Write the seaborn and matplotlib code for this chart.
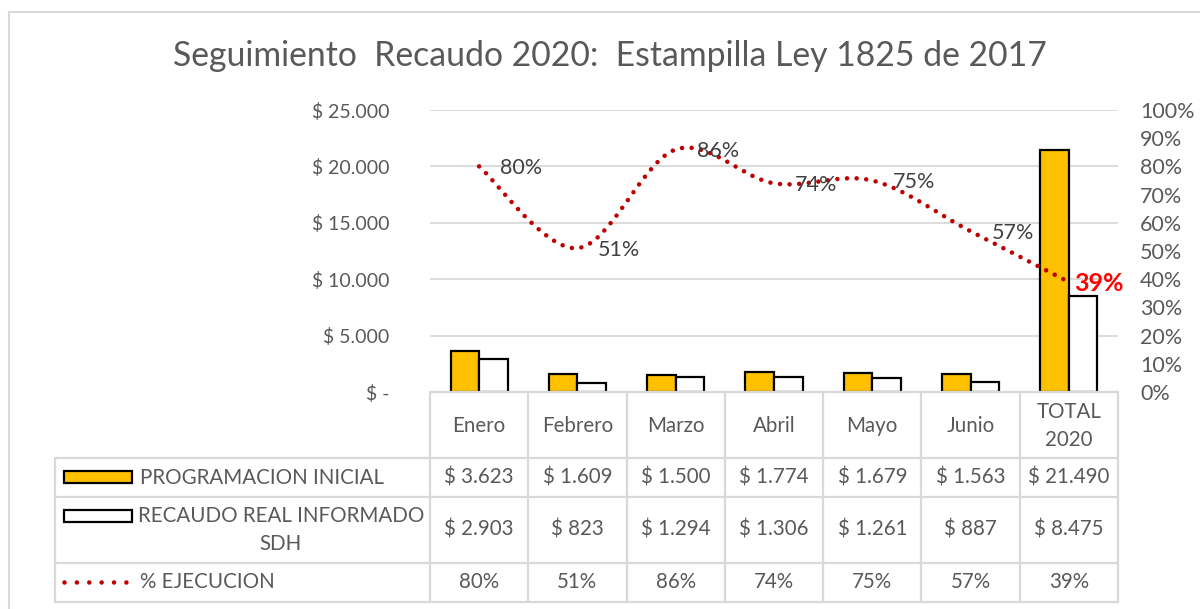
import numpy as np
import pandas as pd
import seaborn as sns
import matplotlib
matplotlib.use("Agg")
import matplotlib.pyplot as plt
from matplotlib.patches import Rectangle
from matplotlib.lines import Line2D
from matplotlib.transforms import blended_transform_factory

# ---------------- data ----------------
meses = ["Enero", "Febrero", "Marzo", "Abril", "Mayo", "Junio", "TOTAL\n2020"]
programacion = [3623, 1609, 1500, 1774, 1679, 1563, 21490]
recaudo = [2903, 823, 1294, 1306, 1261, 887, 8475]
ejecucion = [0.80, 0.51, 0.86, 0.74, 0.75, 0.57, 0.39]
serie_prog = "PROGRAMACION INICIAL"
serie_real = "RECAUDO REAL INFORMADO\nSDH"
serie_pct = "% EJECUCION"
titulo = "Seguimiento  Recaudo 2020:  Estampilla Ley 1825 de 2017"
y_ticks = [0, 5000, 10000, 15000, 20000, 25000]
pct_ticks = [i / 10 for i in range(11)]

# ---------------- style ----------------
sns.set_theme(style="white")
plt.rcParams["font.family"] = ["Lato", "DejaVu Sans"]
GREY = "#595959"
GRID = "#D9D9D9"
YELLOW = "#FFC000"
RED = "#C00000"
TICK_FS = 15.5
LTICK_FS = 14
TAB_FS = 14.8

W, H = 1200, 609
fig = plt.figure(figsize=(W / 100, H / 100), dpi=100)


def fx(x):
    return x / W


def fy(y):
    return 1 - y / H


def money(v):
    if v == 0:
        return "$ -"
    return "$ " + f"{v:,.0f}".replace(",", ".")


# plot area
L, R, T, B = 430, 1118, 110, 392
ax = fig.add_axes([fx(L), fy(B), fx(R) - fx(L), fy(T) - fy(B)])

df = pd.DataFrame({
    "mes": meses * 2,
    "valor": programacion + recaudo,
    "serie": [serie_prog] * len(meses) + [serie_real] * len(meses),
})
sns.barplot(data=df, x="mes", y="valor", hue="serie", order=meses,
            hue_order=[serie_prog, serie_real], palette=[YELLOW, "white"],
            saturation=1, edgecolor="black", linewidth=1.6, width=0.58, gap=0,
            legend=False, ax=ax, zorder=3)
ax.set_xlim(-0.5, len(meses) - 0.5)
ax.set_ylim(0, 25000)
ax.set_yticks(y_ticks)
ax.set_yticklabels([money(v) for v in y_ticks])
ax.tick_params(axis="y", length=0, pad=29, labelsize=LTICK_FS, labelcolor=GREY)
ax.set_xticks([])
ax.set_xlabel("")
ax.set_ylabel("")
ax.grid(axis="y", color=GRID, lw=1.3, zorder=0)
ax.set_axisbelow(True)
for s in ax.spines.values():
    s.set_visible(False)

# secondary axis (percent)
ax2 = ax.twinx()
ax2.set_ylim(0, 1)
ax2.set_yticks(pct_ticks)
ax2.set_yticklabels([f"{int(round(p * 100))}%" for p in pct_ticks])
ax2.tick_params(axis="y", length=0, pad=16, labelsize=TICK_FS, labelcolor=GREY)
for s in ax2.spines.values():
    s.set_visible(False)
ax2.grid(False)

# smooth curve (Bezier smoothing like Excel)
xs = np.arange(len(meses), dtype=float)
ys = np.array(ejecucion, dtype=float)
P = np.column_stack([xs, ys])
curve = []
for i in range(len(P) - 1):
    p0 = P[i - 1] if i > 0 else P[i]
    p1 = P[i]
    p2 = P[i + 1]
    p3 = P[i + 2] if i + 2 < len(P) else P[i + 1]
    c1 = p1 + (p2 - p0) / 6
    c2 = p2 - (p3 - p1) / 6
    t = np.linspace(0, 1, 40)[:, None]
    seg = ((1 - t) ** 3) * p1 + 3 * ((1 - t) ** 2) * t * c1 + 3 * (1 - t) * t ** 2 * c2 + t ** 3 * p2
    curve.append(seg if i == 0 else seg[1:])
curve = np.vstack(curve)
ax2.plot(curve[:, 0], curve[:, 1], color=RED, lw=3.3,
         linestyle=(0, (0.001, 2.1)), dash_capstyle="round", zorder=4)

for i, p in enumerate(ejecucion):
    last = i == len(ejecucion) - 1
    ax2.annotate(f"{int(round(p * 100))}%", (xs[i], p),
                 xytext=(4 if last else 15, -1), textcoords="offset points",
                 ha="left", va="center",
                 fontsize=18 if last else TICK_FS,
                 fontweight="bold" if last else "normal",
                 color="#FF0000" if last else "#404040", zorder=5)

# title
fig.text(fx(610), fy(56), titulo, ha="center", va="center",
         fontsize=24.3, color=GREY)

# outer chart border
fig.add_artist(Rectangle((fx(9), fy(1000)), fx(1400), fy(12) - fy(1000),
                         transform=fig.transFigure, fill=False,
                         edgecolor=GRID, lw=1.5))

# ---------------- data table ----------------
tr = blended_transform_factory(ax.transData, fig.transFigure)
rows_y = [392, 458, 497, 563, 602]
n = len(meses)
tbl_kw = dict(color=GRID, lw=1.6, zorder=1)
fig.add_artist(Line2D([-0.5, n - 0.5], [fy(rows_y[0])] * 2, transform=tr, **tbl_kw))
for yy in rows_y[1:]:
    fig.add_artist(Line2D([fx(55), fx(R)], [fy(yy)] * 2,
                          transform=fig.transFigure, **tbl_kw))
for k in range(n + 1):
    fig.add_artist(Line2D([k - 0.5, k - 0.5], [fy(rows_y[0]), fy(rows_y[-1])],
                          transform=tr, **tbl_kw))
fig.add_artist(Line2D([fx(55), fx(55)], [fy(rows_y[1]), fy(rows_y[-1])],
                      transform=fig.transFigure, **tbl_kw))

txt_kw = dict(ha="center", va="center", fontsize=TAB_FS, color=GREY,
              linespacing=1.45)
row_c = [(rows_y[j] + rows_y[j + 1]) / 2 for j in range(4)]
for k in range(n):
    fig.text(k, fy(row_c[0] + 1), meses[k], transform=tr, **txt_kw)
    fig.text(k, fy(row_c[1]), money(programacion[k]), transform=tr, **txt_kw)
    fig.text(k, fy(row_c[2]), money(recaudo[k]), transform=tr, **txt_kw)
    fig.text(k, fy(row_c[3]), f"{int(round(ejecucion[k] * 100))}%", transform=tr, **txt_kw)

# legend keys
fig.add_artist(Rectangle((fx(64), fy(483)), fx(132) - fx(64), fy(471) - fy(483),
                         transform=fig.transFigure, facecolor=YELLOW,
                         edgecolor="black", lw=1.6))
fig.add_artist(Rectangle((fx(64), fy(522)), fx(132) - fx(64), fy(510) - fy(522),
                         transform=fig.transFigure, facecolor="white",
                         edgecolor="black", lw=1.6))
fig.add_artist(Line2D([fx(64), fx(128)], [fy(582), fy(582)],
                      transform=fig.transFigure, color=RED, lw=3.3,
                      linestyle=(0, (0.001, 2.7)), dash_capstyle="round"))
fig.text(fx(140), fy(row_c[1]), serie_prog, ha="left", va="center",
         fontsize=TAB_FS, color=GREY)
fig.text(fx(281), fy(row_c[2]), serie_real, ha="center", va="center",
         fontsize=TAB_FS, color=GREY, multialignment="center", linespacing=1.45)
fig.text(fx(140), fy(row_c[3]), serie_pct, ha="left", va="center",
         fontsize=TAB_FS, color=GREY)

fig.savefig("out.png", dpi=100)
